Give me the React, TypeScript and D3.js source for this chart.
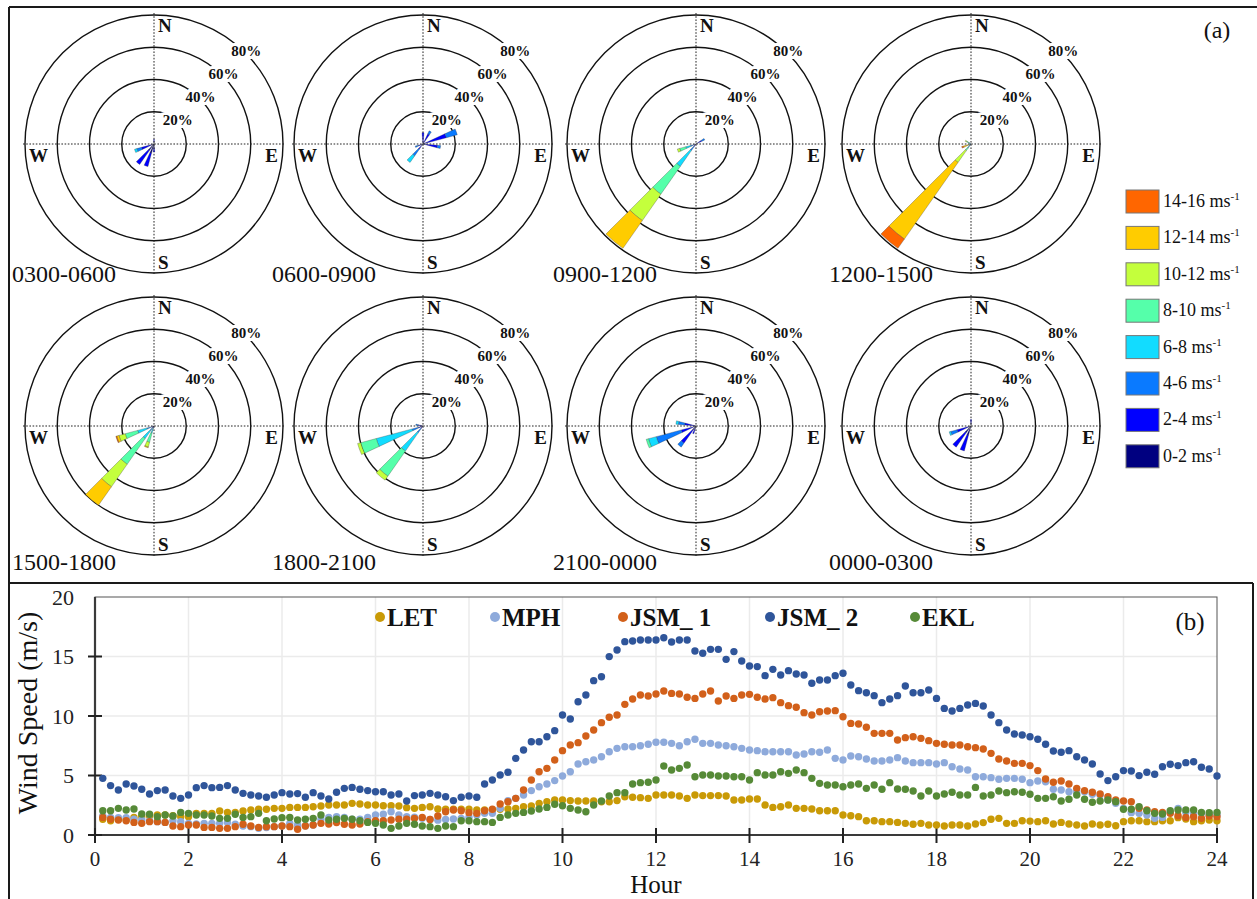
import React, { useEffect, useRef } from "react";
import * as d3 from "d3";

// ---- panel (a): wind roses ----
const speedBins = ["0-2", "2-4", "4-6", "6-8", "8-10", "10-12", "12-14", "14-16"];
const binColors = ["#000080", "#0000ff", "#0a7aff", "#12dcff", "#55ffaa", "#c4ff3c", "#ffcc00", "#ff6600"];
const ringPcts = [20, 40, 60, 80];
const periods = ["0300-0600", "0600-0900", "0900-1200", "1200-1500", "1500-1800", "1800-2100", "2100-0000", "0000-0300"];

// petals: direction (deg from N) and % per speed bin, slowest first
const rose0300 = [
  { dir: 0, bins: [1.5, 1.5] },
  { dir: 180, bins: [3, 2] },
  { dir: 200, bins: [6, 8.5] },
  { dir: 220, bins: [5, 10.5] },
  { dir: 250, bins: [2, 6, 3, 1.5] },
];
const rose0600 = [
  { dir: 0, bins: [1, 6] },
  { dir: 30, bins: [1, 6, 2] },
  { dir: 70, bins: [1, 14, 7] },
  { dir: 100, bins: [1, 8, 2] },
  { dir: 220, bins: [1, 3, 5, 5] },
  { dir: 250, bins: [1, 2, 2] },
];
const rose0900 = [
  { dir: 60, bins: [1, 3, 2] },
  { dir: 220, bins: [0.5, 1.5, 3, 12, 21, 20, 21] },
  { dir: 250, bins: [0.5, 1, 2, 3, 4, 1.5] },
];
const rose1200 = [
  { dir: 220, bins: [0, 0.5, 1, 1.5, 2, 9, 58, 7] },
  { dir: 250, bins: [0, 0, 0, 0, 0.5, 1.5, 3, 1] },
  { dir: 300, bins: [0, 0, 0.5, 1, 1.5, 1] },
];
const rose1500 = [
  { dir: 200, bins: [0, 0.5, 1, 3, 6, 3, 0.5] },
  { dir: 220, bins: [0.5, 1, 2, 6, 19.5, 17, 14] },
  { dir: 250, bins: [0.5, 1, 3, 6, 8, 4, 1.5, 0.5] },
];
const rose1800 = [
  { dir: 220, bins: [0.5, 1.5, 3, 14, 19, 3] },
  { dir: 250, bins: [1, 2, 4, 23, 10, 2] },
  { dir: 280, bins: [1, 2, 1.5] },
];
const rose2100 = [
  { dir: 200, bins: [2, 3] },
  { dir: 220, bins: [3, 10, 3] },
  { dir: 250, bins: [1.5, 8, 16, 5, 1.5] },
  { dir: 280, bins: [1, 6, 4, 1.5] },
];
const rose0000 = [
  { dir: 0, bins: [2, 2] },
  { dir: 200, bins: [6, 10] },
  { dir: 220, bins: [5, 11] },
  { dir: 250, bins: [2, 7, 4, 1] },
];
const roses = [rose0300, rose0600, rose0900, rose1200, rose1500, rose1800, rose2100, rose0000];

// ---- panel (b): 10-minute wind speed (m/s), first value at 00:10 ----
const seriesNames = ["LET", "MPH", "JSM_ 1", "JSM_ 2", "EKL"];
const seriesColors = ["#c99a06", "#8eaadb", "#d2601a", "#2f559a", "#568a37"];
const hourTicks = [0, 2, 4, 6, 8, 10, 12, 14, 16, 18, 20, 22, 24];
const speedTicks = [0, 5, 10, 15, 20];

const LET = [
  1.32, 1.2, 1.32, 1.26, 1.48, 1.54, 1.6, 1.68, 1.68, 1.62, 1.54, 1.54, 1.82, 1.82, 1.82, 2.02, 1.9, 1.9, 2.02, 2.1,
  2.16, 2.16, 2.24, 2.24, 2.32, 2.32, 2.32, 2.38, 2.44, 2.52, 2.52, 2.52, 2.66, 2.6, 2.52, 2.52, 2.46, 2.46, 2.44, 2.3,
  2.24, 2.32, 2.38, 2.18, 2.16, 2.16, 2.16, 2.16, 2.1, 2.1, 2.1, 2.16, 2.18, 2.24, 2.38, 2.44, 2.66, 2.8, 2.94, 2.94,
  2.89, 2.86, 2.86, 2.86, 2.8, 2.8, 2.89, 3.22, 3.17, 3.14, 3.08, 3.36, 3.36, 3.36, 3.28, 3.08, 3.36, 3.31, 3.31, 3.31,
  3.28, 2.94, 2.94, 3.03, 3.03, 2.52, 2.32, 2.38, 2.52, 2.24, 2.24, 2.18, 2.04, 2.04,
  2.04, 1.68, 1.62, 1.54, 1.2, 1.2, 1.12, 1.12, 1.06, 0.98, 0.9, 0.98, 0.84, 0.84, 0.76, 0.84, 0.84, 0.76, 0.92, 1.04,
  1.32, 1.4, 0.98, 0.98, 1.2, 1.17, 1.12, 1.2, 0.92, 1.06, 0.92, 0.84, 0.76, 0.92, 0.84, 0.9, 0.78, 1.12, 1.2, 1.2,
  1.12, 1.12, 1.2, 1.2, 1.46, 1.34, 1.12, 1.2, 1.26, 1.2,
];
const MPH = [
  1.6, 1.48, 1.46, 1.46, 1.32, 1.26, 1.2, 1.12, 1.06, 1.2, 1.12, 0.98, 0.92, 0.98, 0.98, 0.98, 1.04, 0.9, 0.76, 0.7,
  0.56, 0.62, 0.7, 0.76, 0.98, 0.84, 0.76, 0.84, 1.32, 1.48, 1.54, 1.48, 1.32, 1.32, 1.48, 1.68, 1.74, 1.96, 1.68, 1.54,
  1.5, 1.4, 1.3, 1.25, 1.3, 1.35, 1.4, 1.5, 1.68, 1.82, 1.82, 2.24, 2.89, 3.08, 3.36, 3.73, 4.06, 4.29, 4.57, 4.96,
  5.32, 5.97, 6.16, 6.3, 6.58, 7.0, 7.28, 7.42, 7.42, 7.5, 7.62, 7.79, 7.79, 7.7, 7.5, 7.84, 8.04, 7.7, 7.7, 7.56,
  7.5, 7.42, 7.28, 7.14, 7.09, 7.0, 7.0, 7.0, 7.0, 6.72, 6.81, 7.0, 6.95, 7.14,
  6.44, 6.3, 6.64, 6.58, 6.39, 6.22, 6.22, 6.3, 6.5, 6.22, 6.08, 6.08, 6.08, 5.97, 6.08, 5.74, 5.55, 5.46, 4.9, 4.9,
  4.82, 4.68, 4.76, 4.76, 4.68, 4.4, 4.54, 4.48, 3.84, 3.78, 3.64, 3.64, 3.64, 3.42, 3.36, 2.94, 2.66, 2.24, 1.88, 1.82,
  1.68, 1.4, 1.48, 1.88, 2.24, 1.9, 1.76, 1.82, 1.68, 1.68,
];
const JSM1 = [
  1.48, 1.32, 1.26, 1.2, 1.06, 0.98, 1.12, 1.12, 1.06, 0.76, 0.7, 0.84, 0.84, 0.64, 0.64, 0.56, 0.56, 0.7, 0.9, 0.76,
  0.64, 0.7, 0.7, 0.76, 0.7, 0.48, 0.76, 0.84, 0.98, 0.92, 1.04, 0.9, 0.84, 0.92, 1.12, 1.2, 1.2, 1.26, 1.32, 1.32,
  1.4, 1.48, 1.3, 1.6, 1.96, 2.1, 2.04, 1.88, 1.82, 2.04, 2.16, 2.6, 2.8, 3.08, 3.78, 4.62, 5.32, 5.6, 6.3, 7.09,
  7.56, 7.76, 8.32, 8.82, 9.44, 9.89, 10.08, 10.98, 11.43, 11.76, 11.68, 11.85, 12.1, 11.9, 11.85, 11.57, 11.48, 11.85, 12.1, 11.26,
  11.68, 11.48, 11.76, 11.82, 11.57, 11.43, 11.54, 11.12, 10.87, 10.73, 10.28, 10.08, 10.36, 10.42,
  10.45, 9.94, 9.38, 9.33, 9.05, 8.54, 8.54, 8.54, 7.98, 8.18, 8.26, 8.12, 7.93, 7.7, 7.62, 7.56, 7.56, 7.42, 7.34, 7.23,
  6.86, 6.39, 6.22, 6.02, 6.02, 5.83, 5.41, 4.71, 4.43, 4.54, 4.29, 3.92, 3.73, 3.59, 3.45, 3.22, 2.94, 2.86, 2.8, 2.24,
  2.1, 1.96, 1.9, 1.82, 1.62, 1.48, 1.54, 1.4, 1.6, 1.54,
];
const JSM2 = [
  4.76, 4.15, 3.78, 4.29, 4.12, 3.84, 3.45, 3.73, 3.78, 3.28, 3.08, 3.36, 3.98, 4.15, 3.98, 4.0, 4.15, 3.78, 3.5, 3.36,
  3.28, 3.17, 3.36, 3.56, 3.45, 3.48, 3.17, 3.56, 3.28, 3.03, 3.59, 3.92, 4.0, 3.84, 3.73, 3.64, 3.64, 3.36, 3.45, 2.86,
  3.31, 3.36, 3.5, 3.36, 3.22, 2.89, 3.17, 3.28, 3.17, 4.29, 4.62, 5.04, 5.27, 6.44, 7.14, 7.84, 7.84, 8.26, 8.77, 10.08,
  9.75, 11.2, 11.76, 12.97, 13.3, 14.99, 15.55, 16.25, 16.3, 16.39, 16.39, 16.39, 16.58, 16.22, 16.39, 16.39, 15.46, 15.27, 15.6, 15.6,
  14.76, 15.41, 14.62, 14.2, 14.15, 13.39, 13.92, 13.45, 13.81, 13.53, 13.45, 12.75, 13.03, 13.03,
  13.39, 13.59, 12.6, 12.13, 11.96, 11.71, 11.12, 11.43, 11.71, 12.52, 11.96, 11.96, 12.18, 11.48, 10.64, 10.42, 10.64, 10.92, 11.06, 10.84,
  10.08, 9.44, 8.82, 8.49, 8.4, 8.26, 8.04, 7.62, 7.06, 6.95, 7.09, 6.58, 6.3, 5.97, 5.13, 4.57, 4.9, 5.41, 5.38, 4.99,
  5.27, 5.1, 5.74, 5.94, 5.83, 6.08, 6.16, 5.69, 5.55, 4.96,
];
const EKL = [
  2.04, 2.04, 2.24, 2.1, 2.18, 1.76, 1.74, 1.54, 1.68, 1.6, 1.9, 1.82, 1.68, 1.68, 1.6, 1.4, 1.4, 1.74, 1.48, 1.54,
  1.82, 1.2, 1.34, 1.46, 1.48, 1.26, 1.32, 1.4, 1.68, 1.26, 1.32, 1.4, 1.32, 1.2, 1.06, 0.98, 0.84, 0.56, 0.76, 0.98,
  0.9, 0.76, 0.7, 0.56, 0.76, 0.7, 1.2, 1.2, 1.12, 1.12, 1.06, 1.48, 1.68, 1.82, 1.9, 2.02, 2.18, 2.32, 2.58, 2.46,
  2.24, 2.1, 1.96, 2.52, 2.86, 3.28, 3.56, 3.56, 4.29, 4.4, 4.43, 4.62, 5.8, 5.46, 5.6, 5.88, 4.9, 5.04, 5.04, 4.96,
  4.96, 4.9, 4.9, 4.62, 5.24, 5.04, 5.04, 5.32, 5.18, 5.46, 5.24, 4.76, 4.34, 4.2,
  4.2, 4.06, 4.2, 4.29, 3.92, 4.2, 3.84, 4.4, 3.87, 3.84, 3.7, 3.28, 3.7, 3.28, 3.45, 3.59, 3.36, 3.36, 4.0, 3.28,
  3.36, 3.7, 3.56, 3.64, 3.59, 3.42, 3.08, 3.08, 3.22, 2.86, 3.0, 3.36, 3.0, 2.75, 2.86, 2.94, 2.8, 2.16, 2.16, 2.38,
  2.04, 1.82, 1.76, 2.04, 2.1, 2.1, 2.1, 1.9, 1.88, 1.9,
];
const seriesValues = [LET, MPH, JSM1, JSM2, EKL];

const SERIF = "'Liberation Serif', 'Times New Roman', serif";
const W = 1257;
const H = 899;

export default function App() {
  const ref = useRef<SVGSVGElement>(null);

  useEffect(() => {
    document.body.style.margin = "0";
    const svg = d3.select(ref.current);
    svg.selectAll("*").remove();
    svg.append("rect").attr("width", W).attr("height", H).attr("fill", "#fff");

    // figure frame
    const frame = svg.append("g").attr("stroke", "#1a1a1a").attr("stroke-width", 2);
    frame.append("line").attr("x1", 9).attr("x2", W).attr("y1", 7).attr("y2", 7);
    frame.append("line").attr("x1", 9).attr("x2", 9).attr("y1", 7).attr("y2", H);
    frame.append("line").attr("x1", 9).attr("x2", 1253).attr("y1", 583).attr("y2", 583);
    frame.append("line").attr("x1", 1253).attr("x2", 1253).attr("y1", 583).attr("y2", H);

    // ---------- (a) wind roses ----------
    const roseX = [154, 423, 696, 971];
    const roseY = [144, 426];
    const labelX = [12, 272, 553, 829];
    const labelY = [282, 570];
    const rScale = d3.scaleLinear().domain([0, 80]).range([0, 129]);
    const arc = d3.arc<any>();
    const rad = Math.PI / 180;

    roses.forEach((petals, i) => {
      const col = i % 4;
      const row = Math.floor(i / 4);
      const g = svg.append("g").attr("transform", `translate(${roseX[col]},${roseY[row]})`);

      g.selectAll("circle")
        .data(ringPcts)
        .join("circle")
        .attr("r", (d) => rScale(d))
        .attr("fill", "none")
        .attr("stroke", "#111")
        .attr("stroke-width", 1.4);

      const ext = rScale(80) + 2;
      g.append("line").attr("x1", -ext).attr("x2", ext).attr("y1", 0).attr("y2", 0);
      g.append("line").attr("x1", 0).attr("x2", 0).attr("y1", -ext).attr("y2", ext);
      g.selectAll("line").attr("stroke", "#222").attr("stroke-width", 1).attr("stroke-dasharray", "1.6,1.6");

      petals.forEach((p) => {
        const stack = d3.cumsum(p.bins);
        p.bins.forEach((v, k) => {
          if (!v) return;
          g.append("path")
            .attr(
              "d",
              arc({
                innerRadius: rScale(k ? stack[k - 1] : 0),
                outerRadius: rScale(stack[k]),
                startAngle: (p.dir - 5) * rad,
                endAngle: (p.dir + 5) * rad,
              })
            )
            .attr("fill", binColors[k])
            .attr("stroke", "#333")
            .attr("stroke-width", 0.3);
        });
      });

      ringPcts.forEach((pct) => {
        const r = rScale(pct);
        g.append("text")
          .attr("x", r * Math.SQRT1_2 + 1)
          .attr("y", -r * Math.SQRT1_2)
          .attr("text-anchor", "middle")
          .attr("dominant-baseline", "middle")
          .attr("font-family", SERIF)
          .attr("font-weight", "bold")
          .attr("font-size", 15)
          .attr("paint-order", "stroke")
          .attr("stroke", "#fff")
          .attr("stroke-width", 6)
          .attr("fill", "#111")
          .text(`${pct}%`);
      });

      const compass = [
        { t: "N", x: 4, y: -112, a: "start" },
        { t: "S", x: 4, y: 125, a: "start" },
        { t: "W", x: -125, y: 18, a: "start" },
        { t: "E", x: 124, y: 18, a: "end" },
      ];
      compass.forEach((c) => {
        g.append("text")
          .attr("x", c.x)
          .attr("y", c.y)
          .attr("text-anchor", c.a)
          .attr("font-family", SERIF)
          .attr("font-weight", "bold")
          .attr("font-size", 19)
          .attr("fill", "#111")
          .text(c.t);
      });

      svg.append("text")
        .attr("x", labelX[col])
        .attr("y", labelY[row])
        .attr("font-family", SERIF)
        .attr("font-size", 24)
        .attr("fill", "#111")
        .text(periods[i]);
    });

    svg.append("text")
      .attr("x", 1217)
      .attr("y", 38)
      .attr("text-anchor", "middle")
      .attr("font-family", SERIF)
      .attr("font-size", 24)
      .attr("fill", "#111")
      .text("(a)");

    // speed legend, fastest on top
    const legend = svg.append("g");
    const order = d3.range(speedBins.length).reverse();
    order.forEach((k, j) => {
      const y = 190 + j * 36.4;
      legend.append("rect")
        .attr("x", 1126)
        .attr("y", y)
        .attr("width", 33)
        .attr("height", 23)
        .attr("fill", binColors[k])
        .attr("stroke", "#777")
        .attr("stroke-width", 1);
      const t = legend.append("text")
        .attr("x", 1163)
        .attr("y", y + 17)
        .attr("font-family", SERIF)
        .attr("font-size", 18)
        .attr("fill", "#111");
      t.append("tspan").text(`${speedBins[k]} ms`);
      t.append("tspan").attr("font-size", 11).attr("dy", -7).text("-1");
    });

    // ---------- (b) time series ----------
    const x = d3.scaleLinear().domain([0, 24]).range([95, 1217]);
    const y = d3.scaleLinear().domain([0, 20]).range([835, 597]);
    const b = svg.append("g");

    b.selectAll("line.gx")
      .data(hourTicks.slice(1, -1))
      .join("line")
      .attr("x1", (d) => x(d))
      .attr("x2", (d) => x(d))
      .attr("y1", y(20))
      .attr("y2", y(0))
      .attr("stroke", "#ebebeb")
      .attr("stroke-width", 1.5);
    b.selectAll("line.gy")
      .data(speedTicks.slice(1, -1))
      .join("line")
      .attr("x1", x(0))
      .attr("x2", x(24))
      .attr("y1", (d) => y(d))
      .attr("y2", (d) => y(d))
      .attr("stroke", "#ebebeb")
      .attr("stroke-width", 1.5);

    b.append("rect")
      .attr("x", x(0))
      .attr("y", y(20))
      .attr("width", x(24) - x(0))
      .attr("height", y(0) - y(20))
      .attr("fill", "none")
      .attr("stroke", "#555")
      .attr("stroke-width", 1);
    b.append("line").attr("x1", x(0)).attr("x2", x(0)).attr("y1", y(20)).attr("y2", y(0)).attr("stroke", "#3a3a3a").attr("stroke-width", 2.2);
    b.append("line").attr("x1", x(0)).attr("x2", x(24)).attr("y1", y(0)).attr("y2", y(0)).attr("stroke", "#3a3a3a").attr("stroke-width", 2.2);

    speedTicks.slice(0, -1).forEach((d) => {
      b.append("line").attr("x1", x(0) - 7).attr("x2", x(0) + 7).attr("y1", y(d)).attr("y2", y(d)).attr("stroke", "#222").attr("stroke-width", 2);
    });
    speedTicks.forEach((d) => {
      b.append("text")
        .attr("x", 74)
        .attr("y", y(d))
        .attr("dy", "0.35em")
        .attr("text-anchor", "end")
        .attr("font-family", SERIF)
        .attr("font-size", 22)
        .attr("fill", "#222")
        .text(d);
    });
    hourTicks.forEach((d) => {
      b.append("line").attr("x1", x(d)).attr("x2", x(d)).attr("y1", y(0) - 7).attr("y2", y(0) + 8).attr("stroke", "#222").attr("stroke-width", 2);
      b.append("text")
        .attr("x", x(d))
        .attr("y", 866)
        .attr("text-anchor", "middle")
        .attr("font-family", SERIF)
        .attr("font-size", 21)
        .attr("fill", "#222")
        .text(d);
    });

    b.append("text")
      .attr("x", x(12))
      .attr("y", 893)
      .attr("text-anchor", "middle")
      .attr("font-family", SERIF)
      .attr("font-size", 25)
      .attr("fill", "#111")
      .text("Hour");
    b.append("text")
      .attr("transform", `translate(37,${(y(0) + y(20)) / 2 - 3}) rotate(-90)`)
      .attr("text-anchor", "middle")
      .attr("font-family", SERIF)
      .attr("font-size", 28)
      .attr("fill", "#111")
      .text("Wind Speed (m/s)");

    seriesValues.forEach((vals, s) => {
      b.append("g")
        .selectAll("circle")
        .data(vals)
        .join("circle")
        .attr("cx", (_, i) => x((i + 1) / 6))
        .attr("cy", (d) => y(d))
        .attr("r", 3.7)
        .attr("fill", seriesColors[s]);
    });

    const legendX = [380, 495, 623, 770, 915];
    seriesNames.forEach((name, s) => {
      b.append("circle").attr("cx", legendX[s]).attr("cy", 617).attr("r", 5).attr("fill", seriesColors[s]);
      b.append("text")
        .attr("x", legendX[s] + 7)
        .attr("y", 626)
        .attr("font-family", SERIF)
        .attr("font-weight", "bold")
        .attr("font-size", 25)
        .attr("fill", "#111")
        .text(name);
    });

    b.append("text")
      .attr("x", 1190)
      .attr("y", 630)
      .attr("text-anchor", "middle")
      .attr("font-family", SERIF)
      .attr("font-size", 25)
      .attr("fill", "#111")
      .text("(b)");
  }, []);

  return <svg ref={ref} width={W} height={H} style={{ display: "block" }} />;
}
